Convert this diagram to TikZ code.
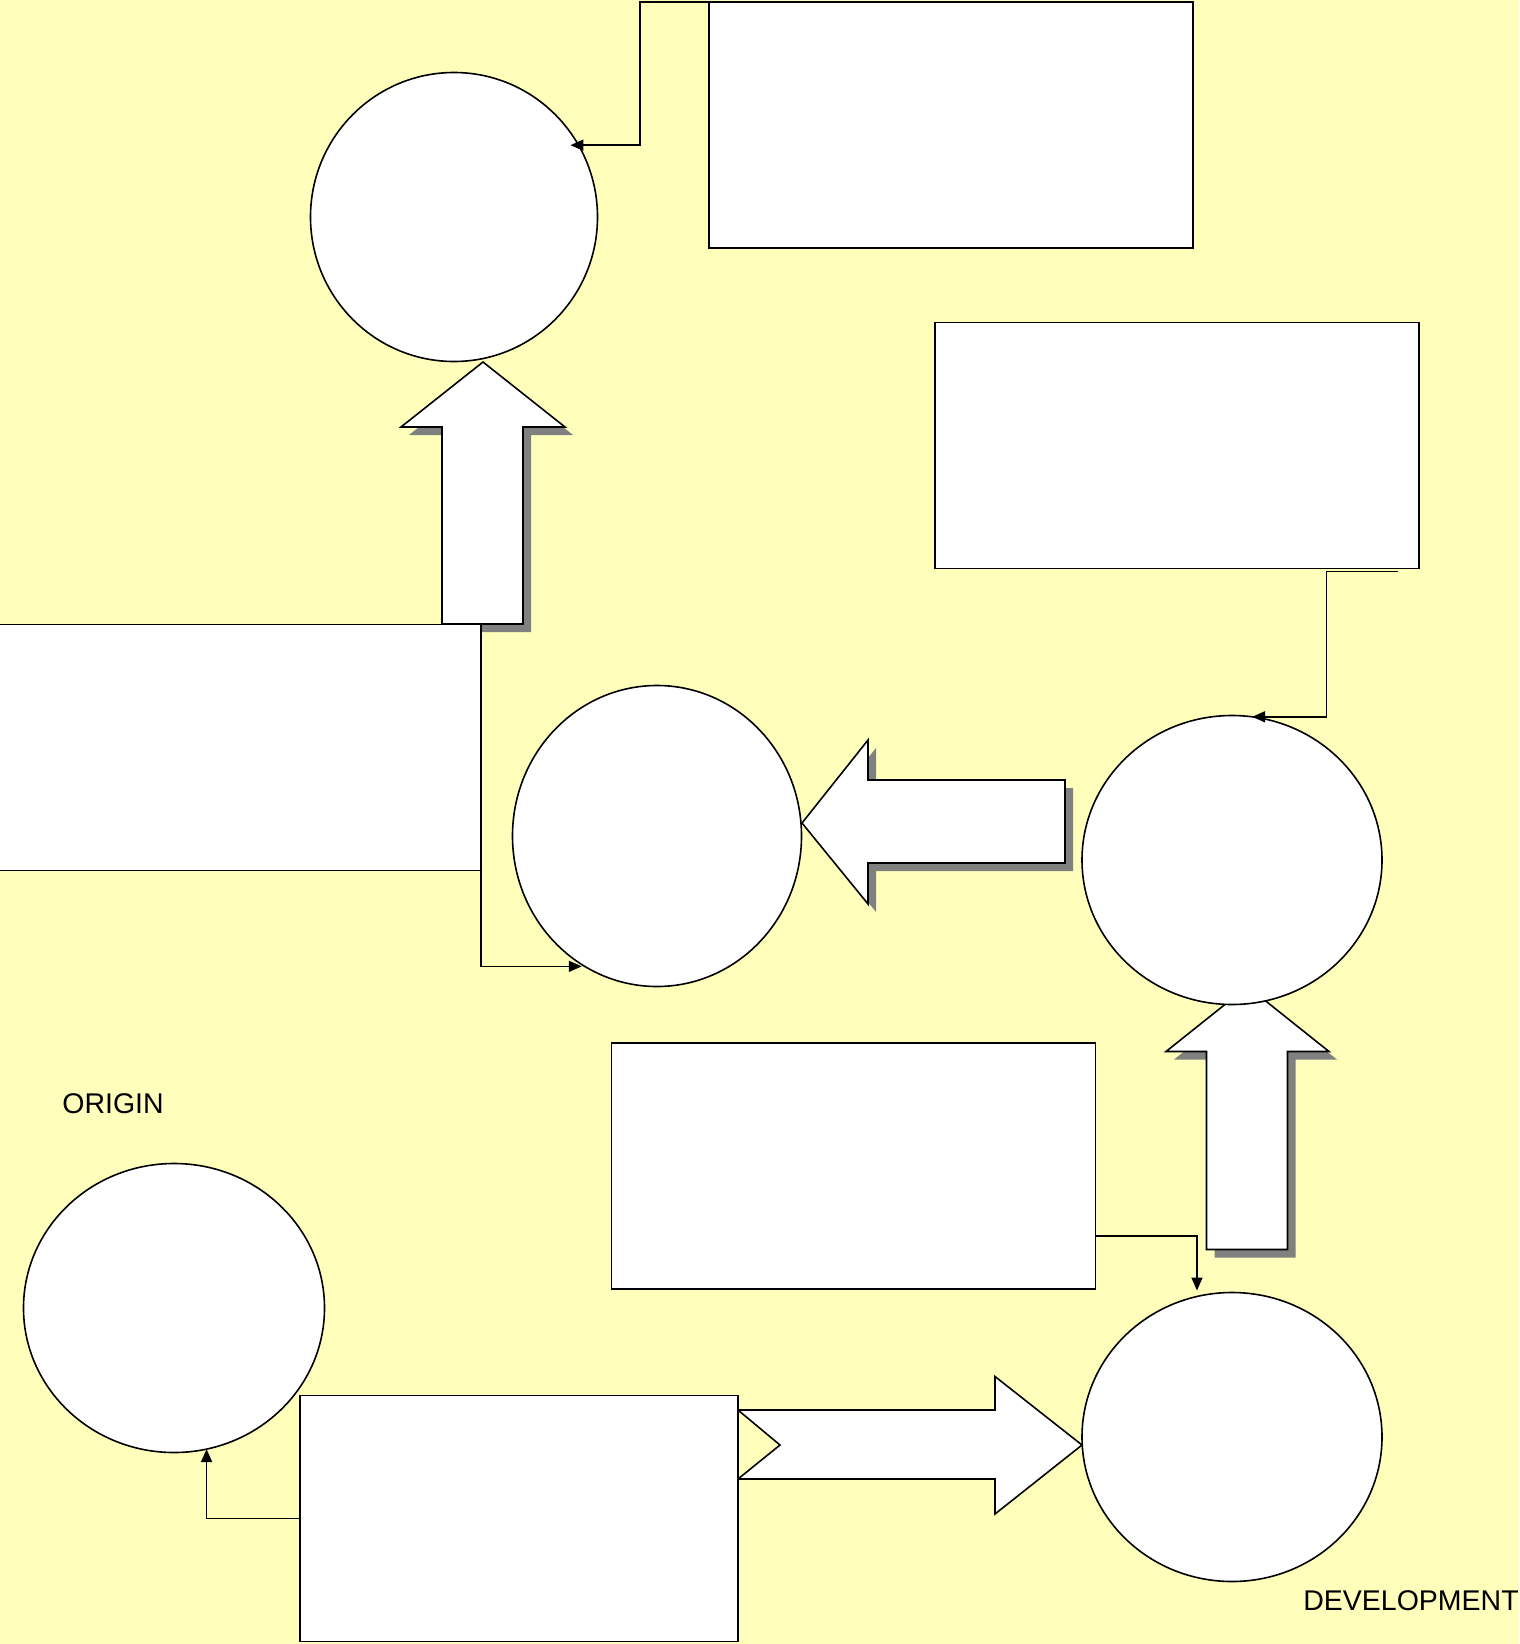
\documentclass[tikz,border=0pt]{standalone}
\usepackage{fontspec}
\setmainfont{Liberation Sans}
\usetikzlibrary{shapes.geometric, arrows.meta, calc}
\definecolor{paper}{RGB}{255,255,187}
\definecolor{shadowgray}{RGB}{128,128,128}
\tikzset{
    box/.style={draw=black, line width=1.6pt, fill=white, rectangle, minimum width=484pt, minimum height=246pt, inner sep=0pt, outer sep=0pt},
    disc/.style={draw=black, line width=1.6pt, fill=white, ellipse, inner sep=0pt, outer sep=0pt},
    link/.style={line width=1.6pt, -{Triangle[length=13pt, width=11pt]}},
    blockarrow/.style={draw=black, line width=1.6pt, fill=white, line join=miter},
    shadowed/.style={preaction={draw=none, fill=shadowgray, transform canvas={xshift=8pt, yshift=-8pt}}},
    caption/.style={font=\fontsize{28.5}{34}\selectfont, inner sep=0pt}
}

\begin{document}
\begin{tikzpicture}[x=1pt, y=-1pt]
        \useasboundingbox (0,0) rectangle (1519,1644);
        \fill[paper] (0,0) rectangle (1519,1644);

        % Block arrows (drawn first, the boxes and circles lie over them)
        \draw[blockarrow, shadowed] (483,362) -- (565,427) -- (523,427) -- (523,624) -- (442,624) -- (442,427) -- (401,427) -- cycle;
        \draw[blockarrow, shadowed] (802,823) -- (868,740) -- (868,780) -- (1065,780) -- (1065,863) -- (868,863) -- (868,904) -- cycle;
        \draw[blockarrow, shadowed] (1247.5,986.5) -- (1329,1051.5) -- (1287.5,1051.5) -- (1287.5,1249.5) -- (1206.5,1249.5) -- (1206.5,1051.5) -- (1166,1051.5) -- cycle;
        \draw[blockarrow] (1082,1445) -- (995,1376.5) -- (995,1410) -- (738,1410) -- (780,1445) -- (738,1479) -- (995,1479) -- (995,1514) -- cycle;

        % Boxes
        \node [box] (r1) at (951,125) {};
        \node [box] (r2) at (1177,445.5) {};
        \node [box] (r3) at (239,747.5) {};
        \node [box] (r4) at (853.5,1166) {};
        \node [box, minimum width=438pt] (r5) at (519,1518.5) {};

        % Circles
        \node [disc, minimum width=287pt, minimum height=289pt] (c1) at (454,217) {};
        \node [disc, minimum width=289pt, minimum height=301pt] (c2) at (657,836) {};
        \node [disc, minimum width=300pt, minimum height=289pt] (c3) at (1232,860) {};
        \node [disc, minimum width=301pt, minimum height=289pt] (c4) at (174,1308) {};
        \node [disc, minimum width=300pt, minimum height=289pt] (c5) at (1232,1437) {};

        % Connectors
        \draw [link, shorten >=-8pt] (r1.north west) -- ++(-69,0) |- (c1.30);
        \draw [link] ($(r2.south east)+(-21,3)$) -- ++(-71.5,0) |- (c3.82);
        \draw [link, shorten >=3pt] (r3.south east) |- (c2.241);
        \draw [link, shorten >=6pt] ($(r4.south east)+(0,-53)$) -| (c5.104);
        \draw [link] (r5.west) -| (c4.283);

        % Labels
        \node [caption] (origin) at (113,1104) {ORIGIN};
        \node [caption] (development) at (1411,1601) {DEVELOPMENT};
    \end{tikzpicture}
\end{document}
